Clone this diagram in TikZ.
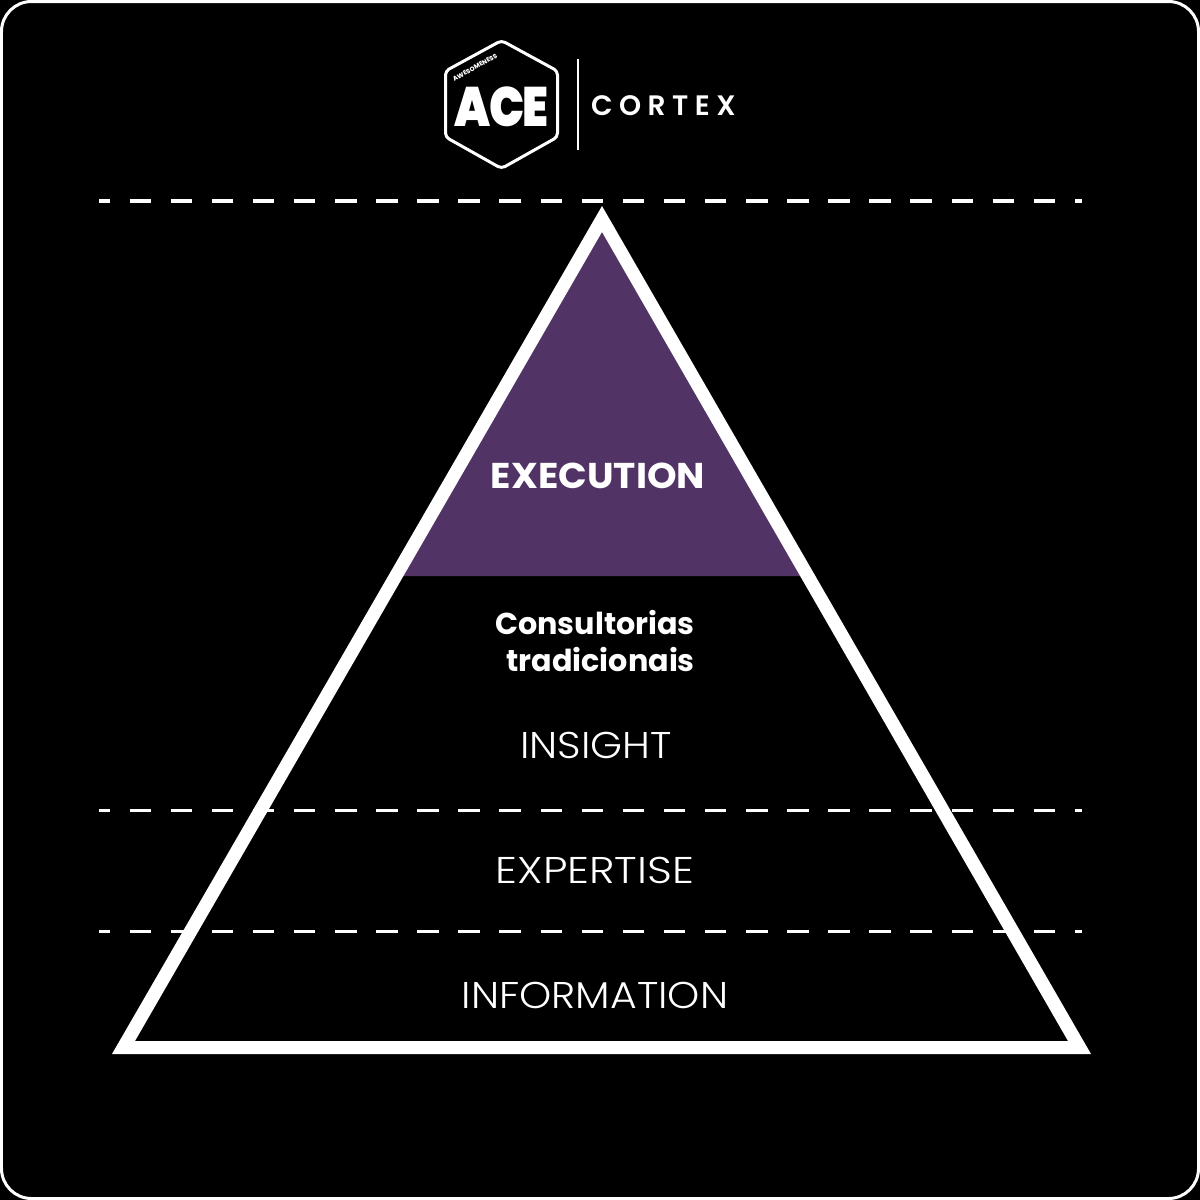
\documentclass[tikz,border=0pt]{standalone}
\usepackage{fontspec}
\setmainfont{Poppins}
\newfontfamily\lightfont[FakeStretch=1.1]{Poppins Light}
\newfontfamily\lightwide[FakeStretch=1.165]{Poppins Light}
\newfontfamily\headfont[FakeStretch=1.05]{Poppins Bold}
\newfontfamily\subfont{Poppins Bold}
\newfontfamily\tagfont{Poppins ExtraBold}
\newfontfamily\logofont[FakeStretch=0.84,LetterSpace=-3]{Poppins Black}
\newfontfamily\cortexfont[LetterSpace=23]{Poppins SemiBold}
\definecolor{plum}{HTML}{523366}
\tikzset{
  x=0.05cm,y=-0.05cm,
  band/.style={draw=white,line width=1.5mm,dash pattern=on 1.075cm off 0.98cm,dash phase=0.525cm},
  bandtop/.style={band,line width=2mm},
  level/.style={text=white,font=\lightfont\fontsize{53}{53}\selectfont,anchor=center,inner sep=0pt},
  levelwide/.style={level,font=\lightwide\fontsize{53}{53}\selectfont},
  head/.style={text=white,font=\headfont\fontsize{51}{51}\selectfont,anchor=center,inner sep=0pt},
  sub/.style={text=white,font=\subfont\fontsize{43}{52}\selectfont,anchor=center,inner sep=0pt,align=right},
}
\begin{document}
\begin{tikzpicture}
\useasboundingbox (0,0) rectangle (1200,1200);
\fill[black] (0,0) rectangle (1200,1200);
\draw[white,line width=0.15cm,rounded corners=1.5cm] (1.5,1.5) rectangle (1198.5,1198.5);
\fill[plum] (602,232) -- (802,576) -- (402,576) -- cycle;
\fill[white,even odd rule] (602,206) -- (1091,1054) -- (112,1054) -- cycle
  (602,232) -- (1068,1041) -- (135,1041) -- cycle;
\coordinate (a1) at (99,201); \coordinate (a2) at (1082,201);
\coordinate (b1) at (99,810); \coordinate (b2) at (1082,810);
\coordinate (c1) at (99,931); \coordinate (c2) at (1082,931);
\draw[bandtop] (a1) -- (a2);
\draw[band] (b1) -- (b2);
\draw[band] (c1) -- (c2);
\node[head] (ex) at (598,476) {EXECUTION};
\node[sub] (co) at (595,641) {Consultorias\\tradicionais};
\node[level] (in) at (596,745.5) {INSIGHT};
\node[levelwide] (ep) at (595,870.5) {EXPERTISE};
\node[level] (im) at (595,995.5) {INFORMATION};
% logo
\draw[white,line width=0.15cm,line join=round,rounded corners=0.2cm] (501.5,40.5) -- (557.5,71) -- (557.5,137) -- (501.5,168.5) -- (445.5,137) -- (445.5,71) -- cycle;
\draw[white,line width=0.12cm] (578,59) -- (578,150);
\node[text=white,font=\logofont\fontsize{79}{79}\selectfont,inner sep=0pt] (ace) at (501.5,107) {ACE};
\node[text=white,font=\tagfont\fontsize{9}{9}\selectfont,rotate=29,inner sep=0pt] (tag) at (475,67.5) {AWESOMENESS};
\node[text=white,font=\cortexfont\fontsize{40}{40}\selectfont,anchor=west,inner sep=0pt] (cx) at (591,105.5) {CORTEX};
\end{tikzpicture}
\end{document}
